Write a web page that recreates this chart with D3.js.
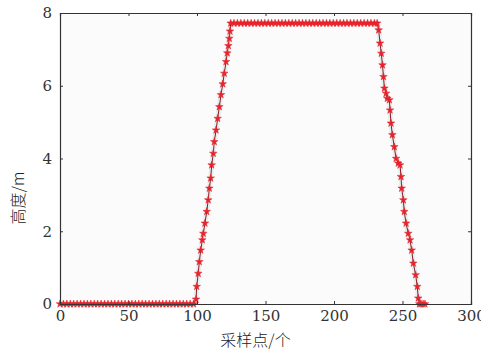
<!DOCTYPE html>
<html>
<head>
<meta charset="utf-8">
<script src="https://cdn.jsdelivr.net/npm/d3@7"></script>
<style>
  body { margin: 0; background: #fff; }
</style>
</head>
<body>
<div id="chart"></div>
<script>
// 采样点 (x) 和 高度 (y), 从图上读出来的
var sampleX = [
  0, 2.5, 5, 7.5, 10, 12.5, 15, 17.5, 20, 22.5, 25, 27.5, 30, 32.5, 35, 37.5, 40, 42.5, 45, 47.5,
  50, 52.5, 55, 57.5, 60, 62.5, 65, 67.5, 70, 72.5, 75, 77.5, 80, 82.5, 85, 87.5, 90, 92.5, 95, 97.5,
  99.3, 99.8, 100.9, 101.7, 102.7, 103.9, 104.6, 105.8, 107.1, 108.2, 109.0, 110.0, 110.7, 111.9,
  112.6, 113.9, 115.1, 116.3, 117.5, 118.8, 119.9, 121.2, 122.1, 122.9, 123.6, 124.1,
  124.6, 127, 129.5, 132, 134.5, 137, 139.5, 142, 144.5, 147, 149.5, 152, 154.5, 157, 159.5, 162,
  164.5, 167, 169.5, 172, 174.5, 177, 179.5, 182, 184.5, 187, 189.5, 192, 194.5, 197, 199.5, 202,
  204.5, 207, 209.5, 212, 214.5, 217, 219.5, 222, 224.5, 227, 229.5, 231.5,
  232.6, 233.6, 234.5, 235.4, 236.1, 236.8, 238.0, 238.9, 240.4, 240.9, 241.6, 242.6, 244.0, 245.3,
  246.9, 248.2, 248.9, 249.4, 250.6, 251.3, 252.6, 254.2, 255.5, 256.7, 257.9, 259.6, 260.8, 261.5,
  262.3, 263.5, 265.0, 266.4
];
var heightY = [
  0, 0, 0, 0, 0, 0, 0, 0, 0, 0, 0, 0, 0, 0, 0, 0, 0, 0, 0, 0,
  0, 0, 0, 0, 0, 0, 0, 0, 0, 0, 0, 0, 0, 0, 0, 0, 0, 0, 0, 0,
  0.13, 0.48, 0.84, 1.16, 1.48, 1.76, 1.94, 2.22, 2.54, 2.86, 3.18, 3.46, 3.82, 4.14,
  4.46, 4.78, 5.10, 5.42, 5.75, 6.05, 6.34, 6.66, 6.90, 7.10, 7.30, 7.50,
  7.72, 7.72, 7.72, 7.72, 7.72, 7.72, 7.72, 7.72, 7.72, 7.72, 7.72, 7.72, 7.72, 7.72, 7.72, 7.72,
  7.72, 7.72, 7.72, 7.72, 7.72, 7.72, 7.72, 7.72, 7.72, 7.72, 7.72, 7.72, 7.72, 7.72, 7.72, 7.72,
  7.72, 7.72, 7.72, 7.72, 7.72, 7.72, 7.72, 7.72, 7.72, 7.72, 7.72, 7.72,
  7.53, 7.17, 6.89, 6.57, 6.25, 5.93, 5.79, 5.65, 5.61, 5.33, 4.97, 4.65, 4.32, 4.00,
  3.87, 3.82, 3.50, 3.18, 2.86, 2.54, 2.22, 1.94, 1.76, 1.48, 1.12, 0.80, 0.48, 0.16,
  0, 0, 0, 0
];
var xTicks = [0, 50, 100, 150, 200, 250, 300];
var yTicks = [0, 2, 4, 6, 8];
var xTitle = "采样点/个";
var yTitle = "高度/m";

var width = 481, height = 352;
var margin = {left: 60, right: 10, top: 13, bottom: 48};
var plotW = width - margin.left - margin.right;
var plotH = height - margin.top - margin.bottom;
var serif = "DejaVu Serif";

var svg = d3.select("#chart").append("svg")
    .attr("width", width)
    .attr("height", height);

var x = d3.scaleLinear().domain([0, 300]).range([0, plotW]);
var y = d3.scaleLinear().domain([0, 8]).range([plotH, 0]);

var g = svg.append("g").attr("transform", "translate(" + margin.left + "," + margin.top + ")");

// 背景
g.append("rect")
    .attr("width", plotW).attr("height", plotH)
    .attr("fill", "#fbfbfb");

var points = sampleX.map(function (d, i) { return [d, heightY[i]]; });

var line = d3.line()
    .x(function (d) { return x(d[0]); })
    .y(function (d) { return y(d[1]); });

// 淡淡的青色噪点带
g.append("path").datum(points)
    .attr("d", line)
    .attr("fill", "none")
    .attr("stroke", "#d3e8ea")
    .attr("stroke-width", 5)
    .attr("opacity", 0.6);

g.append("path").datum(points)
    .attr("d", line)
    .attr("fill", "none")
    .attr("stroke", "#8a1d22")
    .attr("stroke-width", 1);

var star = d3.symbol().type(d3.symbolStar).size(18);
g.selectAll(".mk").data(points).enter().append("path")
    .attr("class", "mk")
    .attr("d", star)
    .attr("transform", function (d) { return "translate(" + x(d[0]) + "," + y(d[1]) + ")"; })
    .attr("fill", "#e8232b")
    .attr("stroke", "#e8232b")
    .attr("stroke-width", 0.5);

// 坐标轴, 刻度朝里
var tickLen = 3;
var axB = g.append("g").attr("transform", "translate(0," + plotH + ")")
    .call(d3.axisBottom(x).tickValues(xTicks).tickSize(-tickLen).tickPadding(6).tickFormat(d3.format("d")));
g.append("g")
    .call(d3.axisTop(x).tickValues(xTicks).tickSize(-tickLen).tickFormat(""));
var axL = g.append("g")
    .call(d3.axisLeft(y).tickValues(yTicks).tickSize(-tickLen).tickPadding(8).tickFormat(d3.format("d")));
g.append("g").attr("transform", "translate(" + plotW + ",0)")
    .call(d3.axisRight(y).tickValues(yTicks).tickSize(-tickLen).tickFormat(""));

axB.attr("font-family", serif).attr("font-size", 15);
axL.attr("font-family", serif).attr("font-size", 15);

g.selectAll(".domain").attr("stroke", "#333").attr("stroke-width", 1.2);
g.selectAll(".tick line").attr("stroke", "#333");
g.selectAll(".tick text").attr("fill", "#333");

svg.append("text")
    .attr("x", margin.left + plotW / 2 - 10)
    .attr("y", 346)
    .attr("text-anchor", "middle")
    .attr("fill", "#222")
    .attr("font-size", 16)
    .attr("font-family", "Noto Sans CJK SC")
    .attr("font-weight", 300)
    .text(xTitle);

svg.append("text")
    .attr("transform", "translate(24,198) rotate(-90)")
    .attr("text-anchor", "middle")
    .attr("fill", "#222")
    .attr("font-size", 16)
    .attr("font-family", "Noto Sans CJK SC")
    .attr("font-weight", 300)
    .text(yTitle);
</script>
</body>
</html>
